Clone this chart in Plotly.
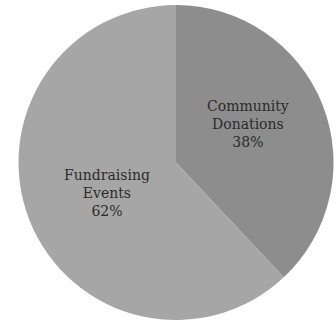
import plotly.graph_objects as go

labels = ["Community<br>Donations", "Fundraising<br>Events"]
values = [38, 62]
colors = ["#8d8d8d", "#a6a6a6"]
label_pos = [(0.728, 0.622), (0.282, 0.403)]

total = sum(values)

fig = go.Figure(go.Pie(
    labels=labels,
    values=values,
    sort=False,
    direction="clockwise",
    rotation=0,
    marker=dict(colors=colors, line=dict(width=0)),
    textinfo="none",
    hoverinfo="skip",
))
for lab, val, (px, py) in zip(labels, values, label_pos):
    fig.add_annotation(
        x=px, y=py, xref="paper", yref="paper",
        xanchor="center", yanchor="middle",
        text=f"{lab}<br>{round(100 * val / total)}%",
        showarrow=False, align="center",
        font=dict(family="DejaVu Serif", size=14, color="#2b2b2b"),
    )
fig.update_layout(
    width=336, height=320,
    margin=dict(l=18, r=2, t=5, b=0),
    showlegend=False,
    paper_bgcolor="white",
    plot_bgcolor="white",
)
fig.write_html("out.html")
